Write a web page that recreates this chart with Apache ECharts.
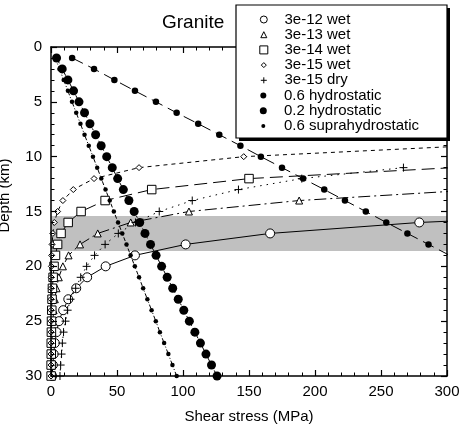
<!DOCTYPE html>
<html><head><meta charset="utf-8">
<script src="https://cdn.jsdelivr.net/npm/echarts@6/dist/echarts.min.js"></script>
<style>html,body{margin:0;padding:0;background:#fff}#c{width:459px;height:428px}</style>
</head><body><div id="c"></div>
<script>
// ---- data ----
const chartTitle = 'Granite';
const xAxisName = 'Shear stress (MPa)';
const yAxisName = 'Depth (km)';
const seriesNames = ['3e-12 wet','3e-13 wet','3e-14 wet','3e-15 wet','3e-15 dry','0.6 hydrostatic','0.2 hydrostatic','0.6 suprahydrostatic'];

const wet12Depth  = [15,16,17,18,19,20,21,22,23,24,25,26,27,28,29,30];
const wet12Stress = [470,279,166,102,63.6,41.4,27.4,19.1,13.1,9.2,6.0,4.2,2.9,2.0,1.4,0.9];

const wet13Depth  = [13,14,15,16,17,18,19,20,21,22,23,24,25,26,27,28,29,30];
const wet13Stress = [325,188,104.5,60.4,35.4,22.0,13.3,9.0,5.9,4.2,2.9,2.0,1.4,1.0,0.7,0.5,0.4,0.3];

const wet14Depth  = [11,12,13,14,15,16,17,18,19,20,21,22,23,24,25,26,27,28,29,30];
const wet14Stress = [305,150,76.3,41.0,22.8,13.0,7.6,5.0,3.4,2.3,1.6,1.1,0.8,0.6,0.4,0.3,0.2,0.2,0.1,0.1];

const wet15Depth  = [9,10,11,12,13,14,15,16,17,18,19,20,21,22,23,24,25,26,27,28,29,30];
const wet15Stress = [318,146,66.7,32.6,16.9,9.0,5.0,2.5,1.4,0.8,0.5,0.3,0.2,0.15,0.1,0.1,0.1,0.05,0.05,0.05,0.05,0.05];

const dry15Depth  = [11,12,13,14,15,16,17,18,19,20,21,22,23,24,25,26,27,28,29,30];
const dry15Stress = [267,190,142,107,82,64,51,41,33,27,22.5,18.7,14.8,12.6,11.0,9.5,8.6,8.0,7.3,6.8];

const hydro06Depth  = [1,2,3,4,5,6,7,8,9,10,11,12,13,14,15,16,17,18,19];
const hydro06Stress = [16,32.6,48,63.6,79.5,95.2,111.5,127.5,143.5,159,175,191,207,222.7,238.5,254,270,286,302];

const hydro02Depth  = [1,2,3,4,5,6,7,8,9,10,11,12,13,14,15,16,17,18,19,20,21,22,23,24,25,26,27,28,29,30];
const hydro02Stress = [4.2,8.5,12.8,17.1,21.2,25.4,29.5,33.8,38.0,42.2,46.4,50.5,54.8,59.0,63.0,67.2,71.2,75.4,79.6,83.8,88.0,92.2,96.4,100.6,104.8,109.0,113.2,117.4,121.6,125.8];

const supra06Depth  = [1,2,3,4,5,6,7,8,9,10,11,12,13,14,15,16,17,18,19,20,21,22,23,24,25,26,27,28,29,30];
const supra06Stress = [3.2,6.4,9.6,12.8,15.9,19.1,22.3,25.4,28.6,31.8,35.0,38.1,41.3,44.5,47.6,50.8,54.0,57.2,60.3,63.5,66.7,69.8,73.0,76.2,79.4,82.5,85.7,88.9,92.0,95.2];

const bandTop = 15.4, bandBottom = 18.6;
const xTicks = {min:0, max:300, step:50};
const yTicks = {min:0, max:30, step:5};

// ---- styling ----
const FONT = 'Liberation Sans, Arial, Helvetica, sans-serif';
const PLUS = 'path://M4,0L4,8M0,4L8,4';
const pairs = (xs, ds) => xs.map((x, i) => [x, ds[i]]);

const styles = [
  {sym:'circle',   size:9,   fill:'#fff', bw:1,   dash:'solid',         lsize:7},
  {sym:'triangle', size:7,   fill:'#fff', bw:1,   dash:[12,4,2,4],      lsize:6},
  {sym:'rect',     size:8.5, fill:'#fff', bw:1,   dash:[13,6],          lsize:8},
  {sym:'diamond',  size:6,   fill:'#fff', bw:1,   dash:[4,4],           lsize:5},
  {sym:PLUS,       size:8,   fill:'#000', bw:1,   dash:[1.5,5],         lsize:6},
  {sym:'circle',   size:6.5, fill:'#000', bw:0,   dash:[12,6],          lsize:6},
  {sym:'circle',   size:9,   fill:'#000', bw:0,   dash:[6,3,2,3],       lsize:7},
  {sym:'circle',   size:4.5, fill:'#000', bw:0,   dash:[4,2,1,2,1,2],   lsize:4}
];
const dataSets = [
  pairs(wet12Stress, wet12Depth), pairs(wet13Stress, wet13Depth), pairs(wet14Stress, wet14Depth),
  pairs(wet15Stress, wet15Depth), pairs(dry15Stress, dry15Depth), pairs(hydro06Stress, hydro06Depth),
  pairs(hydro02Stress, hydro02Depth), pairs(supra06Stress, supra06Depth)
];

const series = seriesNames.map((name, i) => {
  const s = styles[i];
  const o = {
    name, type:'line', data:dataSets[i], xAxisIndex:0, yAxisIndex:0,
    symbol:s.sym, symbolSize:s.size, showAllSymbol:true, clip:true, z:2,
    lineStyle:{color:'#000', width:1, type:s.dash},
    itemStyle:{color:s.fill, borderColor:'#000', borderWidth:s.bw},
    emphasis:{disabled:true}
  };
  if (i === 0) {
    o.markArea = {silent:true, itemStyle:{color:'#c0c0c0'},
      data:[[{yAxis:bandTop, xAxis:xTicks.min},{yAxis:bandBottom, xAxis:xTicks.max}]]};
  }
  return o;
});

// legends: one per row so each keeps its own symbol size
const rowCenter0 = 19.5, rowPitch = 15.2, iconCx = 263.3, textX = 284;
const legends = seriesNames.map((name, i) => {
  const s = styles[i];
  const w = s.lsize;
  return {
    data:[{name, icon:s.sym}], orient:'vertical', padding:0, z:20,
    left: iconCx - w/2, top: rowCenter0 + i*rowPitch - 8,
    itemWidth:w, itemHeight:w, selectedMode:false,
    itemStyle:{color:s.fill, borderColor:'#000', borderWidth:s.bw},
    textStyle:{fontSize:15, color:'#000', fontFamily:FONT, lineHeight:16,
      padding:[0,0,0, textX - (iconCx - w/2) - w - 5]}
  };
});

const axisCommon = {
  type:'value', z:3,
  axisLine:{show:true, onZero:false, lineStyle:{color:'#000', width:1.5}},
  axisTick:{show:true, inside:true, length:6, lineStyle:{color:'#000', width:1.2}},
  minorTick:{show:true, splitNumber:5, length:3.5, lineStyle:{color:'#000', width:1}},
  splitLine:{show:false}, minorSplitLine:{show:false}
};
const nameStyle = {fontSize:15, color:'#000', fontFamily:FONT};
const labelStyle = {color:'#000', fontSize:15, fontFamily:FONT};

const option = {
  animation:false,
  backgroundColor:'#fff',
  title:{text:chartTitle, left:157, top:8, textStyle:{fontSize:19, fontWeight:'normal', color:'#000', fontFamily:FONT}},
  grid:{left:51, right:12, top:47, bottom:52, containLabel:false, outerBoundsMode:'none'},
  xAxis:[
    Object.assign({}, axisCommon, {position:'bottom', min:xTicks.min, max:xTicks.max, interval:xTicks.step,
      axisLabel:Object.assign({margin:8}, labelStyle),
      name:xAxisName, nameLocation:'middle', nameGap:33, nameTextStyle:nameStyle}),
    Object.assign({}, axisCommon, {position:'top', min:xTicks.min, max:xTicks.max, interval:xTicks.step,
      axisLabel:{show:false}})
  ],
  yAxis:[
    Object.assign({}, axisCommon, {position:'left', inverse:true, min:yTicks.min, max:yTicks.max, interval:yTicks.step,
      axisLabel:Object.assign({margin:9}, labelStyle),
      name:yAxisName, nameLocation:'middle', nameGap:39, nameRotate:90,
      nameTextStyle:Object.assign({padding:[0,0,0,32]}, nameStyle)}),
    Object.assign({}, axisCommon, {position:'right', inverse:true, min:yTicks.min, max:yTicks.max, interval:yTicks.step,
      axisLabel:{show:false}})
  ],
  legend:legends,
  graphic:[
    {type:'rect', z:10, shape:{x:239, y:8, width:211, height:133}, style:{fill:'#000'}},
    {type:'rect', z:11, shape:{x:236, y:5, width:211, height:133}, style:{fill:'#fff', stroke:'#000', lineWidth:1.2}}
  ],
  series
};

const chart = echarts.init(document.getElementById('c'), null, {renderer:'canvas'});
chart.setOption(option);
</script>
</body></html>
